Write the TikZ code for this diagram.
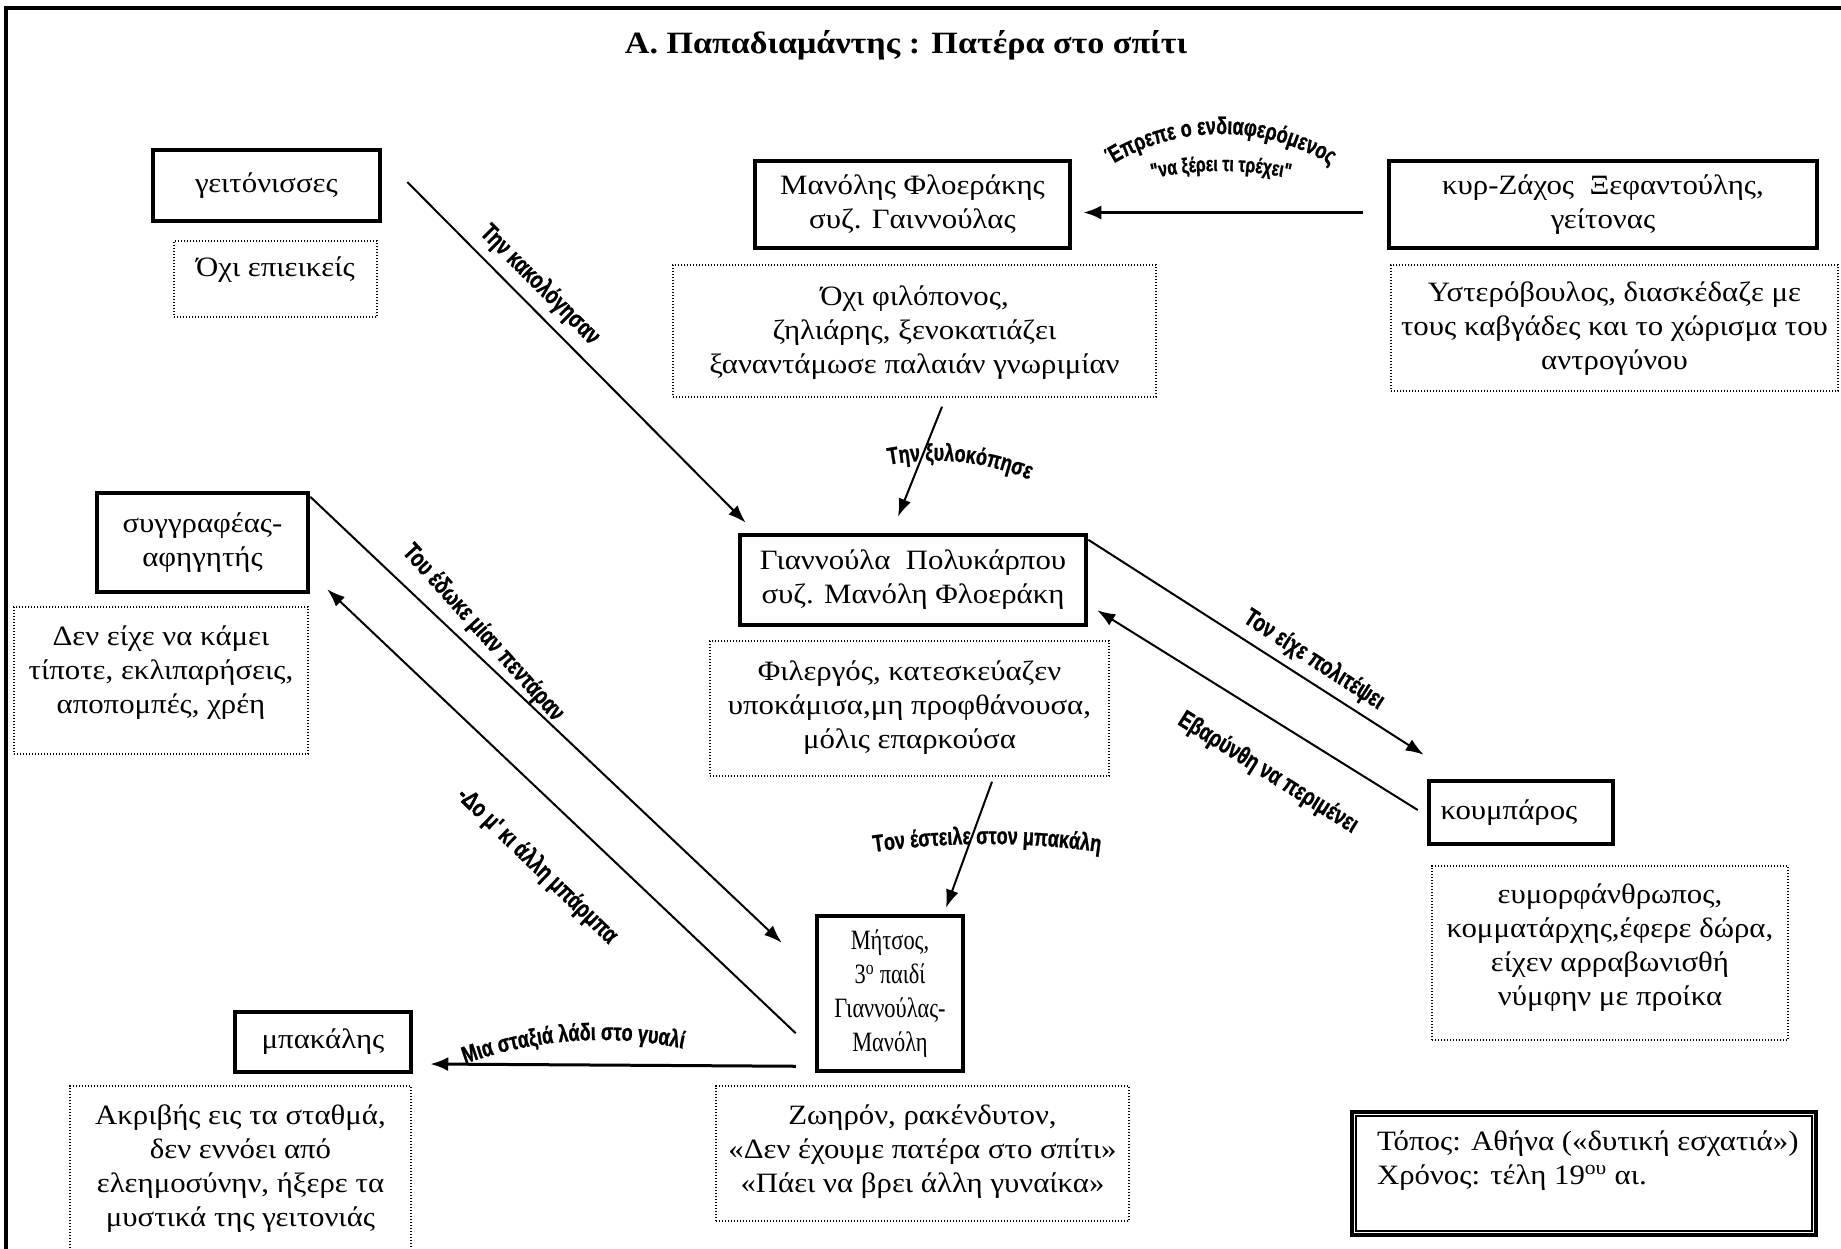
\documentclass[tikz,border=0pt]{standalone}
\usepackage{fontspec}
\setmainfont[FakeStretch=1.1]{Liberation Serif}
\newfontfamily\mitsosfont[FakeStretch=0.8]{Liberation Serif}
\newfontfamily\lblfont[FakeStretch=0.75,FakeBold=1]{Liberation Sans}
\usetikzlibrary{arrows.meta,decorations.text,calc}
\newcommand\dtext[4]{\parbox[c][#2][t]{#1}{\centering\rule{0pt}{#3}#4}}
\newcommand\archtext[7]{%
  \pgfmathsetmacro\arcsx{#1+#3*(cos(#4+#5)-cos(#4))}%
  \pgfmathsetmacro\arcsy{#2+#3*(sin(#4+#5)-sin(#4))}%
  \path[decorate,decoration={text along path,text align=center,
    text={|\lblfont\bfseries\fontsize{#6}{#6}\selectfont|#7}}]
    (\arcsx,\arcsy) arc[start angle=#4+#5,end angle=#4-#5,radius=#3];}
\begin{document}
\begin{tikzpicture}[x=1pt,y=1pt,
  every node/.style={font=\fontsize{28}{34}\selectfont},
  tbox/.style={draw,line width=4.5pt,inner sep=0pt,align=center},
  dbox/.style={draw,line width=1.4pt,dash pattern=on 1.4pt off 1.6pt,inner sep=0pt},
  lbl/.style={font=\lblfont\bfseries\fontsize{25}{25}\selectfont,inner sep=0pt},
  arr/.style={line width=2pt,-{Latex[length=18pt,width=13pt]}},
  harr/.style={line width=3pt,-{Latex[length=18pt,width=14pt]}}]
\path[use as bounding box] (0,0) rectangle (1841,-1248);
\fill[white] (0,0) rectangle (1841,-1248);
% frame
\draw[line width=4.5pt] (6,-1270) -- (6,-8) -- (1870,-8);
% title
\node[font=\bfseries\fontsize{31}{36}\selectfont] (title) at (906,-45) {Α. Παπαδιαμάντης : Πατέρα στο σπίτι};
% main boxes
\node[tbox,minimum width=227pt,minimum height=71pt] (geit) at (266.5,-185.5) {γειτόνισσες};
\node[tbox,minimum width=315pt,minimum height=87pt] (manolis) at (912.5,-204.5) {Μανόλης Φλοεράκης\\συζ. Γαιννούλας};
\node[tbox,minimum width=428pt,minimum height=87pt] (zachos) at (1603,-204.5) {κυρ-Ζάχος\ \ Ξεφαντούλης,\\γείτονας};
\node[tbox,minimum width=211pt,minimum height=99pt] (syggr) at (202.5,-542.5) {συγγραφέας-\\αφηγητής};
\node[tbox,minimum width=346pt,minimum height=90pt] (gianna) at (913,-580) {Γιαννούλα\ \ Πολυκάρπου\\συζ. Μανόλη Φλοεράκη};
\node[tbox,minimum width=184pt,minimum height=63pt] (koumb) at (1521,-812.5) {\hspace*{-24pt}κουμπάρος};
\node[tbox,minimum width=146pt,minimum height=155pt,font=\mitsosfont\fontsize{28}{34}\selectfont] (mitsos) at (890,-993.5) {Μήτσος,\\3\textsuperscript{ο} παιδί\\Γιαννούλας-\\Μανόλη};
\node[tbox,minimum width=176pt,minimum height=60pt] (bakal) at (323,-1042) {μπακάλης};
% note boxes
\node[dbox] (geitN) at (275.5,-279) {\dtext{203pt}{76pt}{35pt}{Όχι επιεικείς}};
\node[dbox] (manolisN) at (914.5,-331) {\dtext{483pt}{132pt}{40pt}{Όχι φιλόπονος,\\ζηλιάρης, ξενοκατιάζει\\ξαναντάμωσε παλαιάν γνωριμίαν}};
\node[dbox] (zachosN) at (1614.5,-328) {\dtext{447pt}{126pt}{36pt}{Υστερόβουλος, διασκέδαζε με\\τους καβγάδες και το χώρισμα του\\αντρογύνου}};
\node[dbox] (syggrN) at (161,-680.5) {\dtext{294pt}{147pt}{38pt}{Δεν είχε να κάμει\\τίποτε, εκλιπαρήσεις,\\αποπομπές, χρέη}};
\node[dbox] (giannaN) at (909.5,-708.5) {\dtext{399pt}{135pt}{39pt}{Φιλεργός, κατεσκεύαζεν\\υποκάμισα,μη προφθάνουσα,\\μόλις επαρκούσα}};
\node[dbox] (koumbN) at (1610,-953) {\dtext{356pt}{174pt}{37pt}{ευμορφάνθρωπος,\\κομματάρχης,έφερε δώρα,\\είχεν αρραβωνισθή\\νύμφην με προίκα}};
\node[dbox] (mitsosN) at (922.5,-1153.5) {\dtext{413pt}{135pt}{38pt}{Ζωηρόν, ρακένδυτον,\\«Δεν έχουμε πατέρα στο σπίτι»\\«Πάει να βρει άλλη γυναίκα»}};
\node[dbox] (bakalN) at (240.5,-1173) {\dtext{341pt}{174pt}{38pt}{Ακριβής εις τα σταθμά,\\δεν εννόει από\\ελεημοσύνην, ήξερε τα\\μυστικά της γειτονιάς}};
% place/time box
\node[draw,line width=3.5pt,inner sep=0pt] (topos) at (1584,-1173.5)
  {\parbox[c][123pt][t]{464pt}{\raggedright\leftskip=25pt\rule{0pt}{38pt}Τόπος: Αθήνα («δυτική εσχατιά»)\\Χρόνος: τέλη 19\textsuperscript{ου} αι.}};
\draw[line width=1.8pt] ([shift={(6,-6)}]topos.north west) rectangle ([shift={(-6,6)}]topos.south east);
% connectors
\draw[arr] ([shift={(25,3.5)}]geit.east) -- ([shift={(8,10)}]gianna.north west);
\draw[arr] ([shift={(27.5,-9)}]manolisN.south) -- ([shift={(-15,16)}]gianna.north);
\draw[harr] ([shift={(-24,-8)}]zachos.west) -- ([shift={(11,-8)}]manolis.east);
\draw[arr] ([shift={(0,-7)}]gianna.north east) -- ([shift={(-3,24)}]koumb.north west);
\draw[arr] ([shift={(-9,2.5)}]koumb.west) -- ([shift={(9,17)}]gianna.south east);
\draw[arr] ([shift={(82.5,-5)}]giannaN.south) -- ([shift={(56,6)}]mitsos.north);
\draw[arr] ([shift={(0,-6)}]syggr.north east) -- ([shift={(-33,-29)}]mitsos.north west);
\draw[arr] ([shift={(-19,40)}]mitsos.south west) -- ([shift={(17,5)}]syggr.south east);
\draw[harr] ([shift={(-19,7)}]mitsos.south west) -- ([shift={(17,-22)}]bakal.east);
% straight labels
\node[lbl,rotate=-45] (la) at (540,-285) {Την κακολόγησαν};
\node[lbl,rotate=-48] (lg) at (483,-633) {Του έδωκε μίαν πεντάραν};
\node[lbl,rotate=-44] (lh) at (537,-866) {-Δο μ' κι άλλη μπάρμπα};
\node[lbl,rotate=-33] (ld) at (1314,-660) {Τον είχε πολιτέψει};
\node[lbl,rotate=-32] (le) at (1268,-773) {Εβαρύνθη να περιμένει};
% arched labels
\archtext{1221}{-134}{210}{90}{50}{24}{Έπρεπε ο ενδιαφερόμενος}
\archtext{1221}{-171}{320}{90}{25}{21}{"να ξέρει τι τρέχει"}
\archtext{960}{-462}{250}{84}{25}{24}{Την ξυλοκόπησε}
\archtext{987}{-844}{800}{90}{12}{24}{Τον έστειλε στον μπακάλη}
\archtext{573}{-1041}{400}{94}{25}{24}{Μια σταξιά λάδι στο γυαλί}
\end{tikzpicture}
\end{document}
